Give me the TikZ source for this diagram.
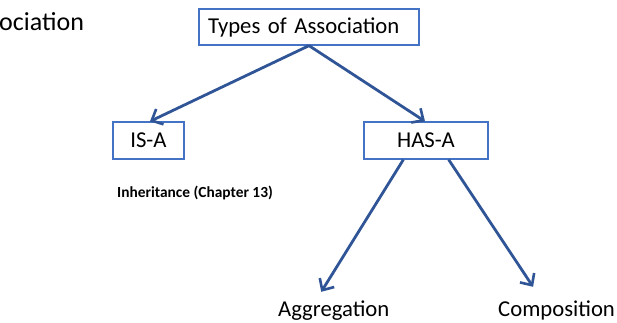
\documentclass[tikz,border=0pt]{standalone}
\usepackage{fontspec}
\setmainfont{Carlito}
\usetikzlibrary{arrows.meta,calc}
\definecolor{boxblue}{HTML}{4472C4}
\definecolor{arrblue}{HTML}{2F5597}
\begin{document}
\begin{tikzpicture}[x=1pt,y=-1pt,
  box/.style={draw=boxblue, line width=1.3pt, inner sep=0pt, font=\fontsize{22.7}{27}\selectfont},
  lbl/.style={inner sep=0pt, text height=16pt, text depth=5pt, font=\fontsize{22.7}{27}\selectfont},
  conn/.style={draw=arrblue, line width=2.8pt, -{Straight Barb[length=9pt,width=17pt,line width=2.6pt]}}]
\useasboundingbox (0,0) rectangle (617,322);
\node (title) [anchor=base west, inner sep=0pt, font=\fontsize{26}{30}\selectfont] at (-1,30) {ociation};
\node (types) [box, minimum width=220pt, minimum height=36pt, text width=202pt, align=left, inner xsep=9pt] at (309,27) {Types of Association};
\node (isa) [box, minimum width=71pt, minimum height=37pt] at (148.5,140.5) {IS-A};
\node (hasa) [box, minimum width=124pt, minimum height=37pt] at (426,140.5) {HAS-A};
\node (inh) [anchor=base west, inner sep=0pt, font=\fontsize{15.4}{18}\selectfont\bfseries] at (117,197) {Inheritance (Chapter 13)};
\node (agg) [lbl, anchor=base west] at (278,316) {Aggregation};
\node (comp) [lbl, anchor=base west] at (498,316) {Composition};
\draw[conn] (types.south) -- ([xshift=1.5pt]isa.north);
\draw[conn] (types.south) -- ([xshift=-1pt]hasa.north);
\draw[conn] ([xshift=40pt]hasa.south west) -- ([shift={(-12.5,-8)}]agg.north);
\draw[conn] ([xshift=-40pt]hasa.south east) -- ([shift={(-23.5,-13)}]comp.north);
\end{tikzpicture}
\end{document}
